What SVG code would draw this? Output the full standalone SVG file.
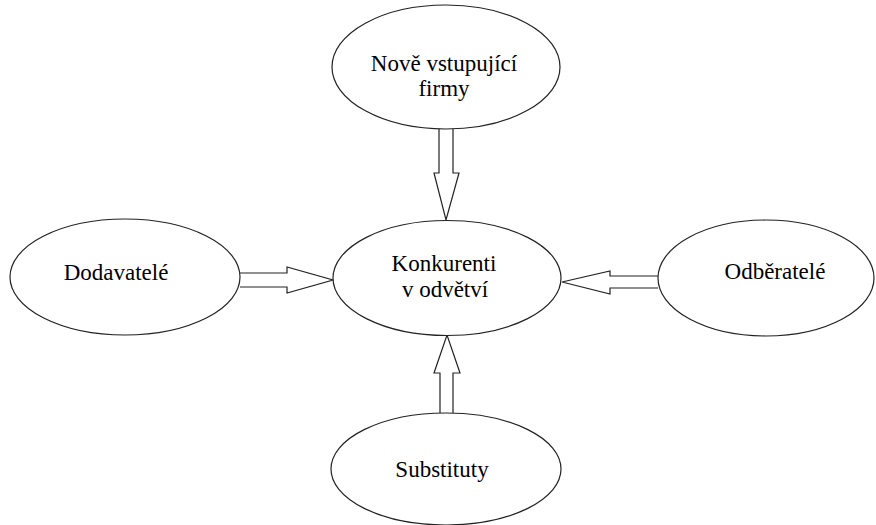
<svg xmlns="http://www.w3.org/2000/svg" width="876" height="525" viewBox="0 0 876 525">
<style>
.node ellipse{fill:#fff;stroke:#222;stroke-width:1.2}
.node text{font-family:"Liberation Serif","Times New Roman",serif;font-size:23px;fill:#000;text-anchor:middle}
.conn path{fill:#fff;stroke:#222;stroke-width:1.2;stroke-linejoin:miter}
</style>
<rect width="876" height="525" fill="#fff"/>
<g id="connectors" class="conn">
<path d="M439,128 V173 H434 L446,220 L459,173 H453 V128"/>
<path d="M240,273 H287 V267 L333,280 L287,293 V287 H240"/>
<path d="M658,276 H610 V271 L562,282 L610,294 V288 H658"/>
<path d="M440,413 V373 H434 L447,335 L460,373 H453 V413"/>
</g>
<g id="nove" class="node">
<ellipse cx="446" cy="67" rx="114" ry="62"/>
<text x="444" y="71">Nově vstupující</text>
<text x="444" y="96">firmy</text>
</g>
<g id="konkurenti" class="node">
<ellipse cx="447" cy="278" rx="114" ry="57.5"/>
<text x="444" y="271">Konkurenti</text>
<text x="445" y="297">v odvětví</text>
</g>
<g id="dodavatele" class="node">
<ellipse cx="125" cy="277" rx="115" ry="58"/>
<text x="116" y="280">Dodavatelé</text>
</g>
<g id="odberatele" class="node">
<ellipse cx="766" cy="278" rx="108" ry="58"/>
<text x="775" y="279">Odběratelé</text>
</g>
<g id="substituty" class="node">
<ellipse cx="446" cy="469" rx="115" ry="56"/>
<text x="442" y="477">Substituty</text>
</g>
</svg>
